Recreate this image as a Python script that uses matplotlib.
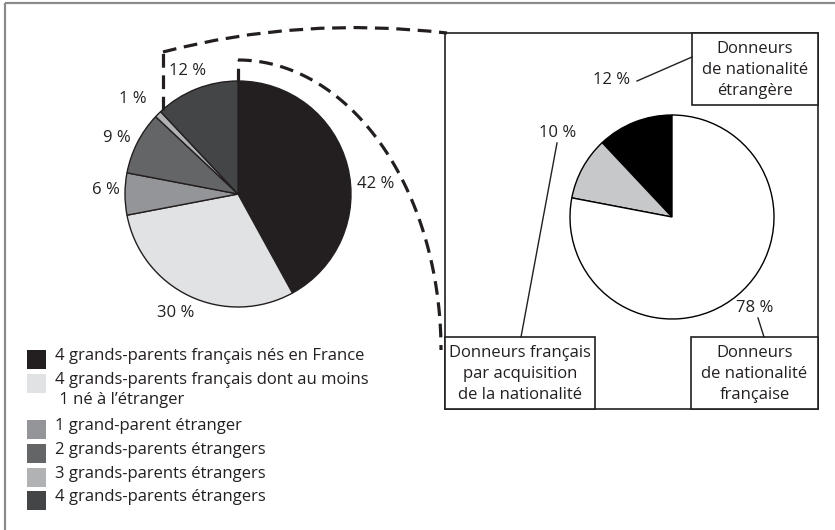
import matplotlib
matplotlib.use("Agg")
import numpy as np
from matplotlib import pyplot as plt
from matplotlib.patches import Rectangle, PathPatch
from matplotlib.path import Path

plt.rcParams['font.family'] = ['Open Sans', 'DejaVu Sans']

# left pie: origin of the donors' grandparents
left_labels = ['4 grands-parents français nés en France',
               '4 grands-parents français dont au moins\n 1 né à l\u2019étranger',
               '1 grand-parent étranger',
               '2 grands-parents étrangers',
               '3 grands-parents étrangers',
               '4 grands-parents étrangers']
left_values = [42, 30, 6, 9, 1, 12]
left_colors = ['#231f20', '#e1e2e3', '#939598', '#646567', '#b1b2b4', '#444547']
left_pct = ['42 %', '30 %', '6 %', '9 %', '1 %', '12 %']

# right pie: nationality of the donors
right_labels = ['Donneurs\nde nationalité\nétrangère',
                'Donneurs français\npar acquisition\nde la nationalité',
                'Donneurs\nde nationalité\nfrançaise']
right_values = [12, 10, 78]
right_colors = ['#000000', '#c7c8ca', '#ffffff']
right_pct = ['12 %', '10 %', '78 %']

W, H = 835, 530
fig = plt.figure(figsize=(W / 100, H / 100), dpi=100)
ax = fig.add_axes([0, 0, 1, 1])

# outer frame (only top/left visible)
ax.add_patch(Rectangle((5, 3), 900, 600, fill=False, ec='#8a8a8a', lw=1.6))

# y axis is inverted: startangle -90 is the top, counterclock=True runs clockwise on screen
ax.pie(left_values, colors=left_colors, center=(238, 194), radius=113,
       startangle=-90, counterclock=True, frame=True,
       wedgeprops=dict(edgecolor='#231f20', linewidth=1.0))
ax.pie(right_values, colors=right_colors, center=(672, 217), radius=102,
       startangle=-90, counterclock=False, frame=True,
       wedgeprops=dict(edgecolor='#000000', linewidth=1.0))
ax.set_xlim(0, W)
ax.set_ylim(H, 0)
ax.set_aspect('equal')
ax.axis('off')

fs = 12
left_pos = [(376, 184), (176, 313), (106, 190), (117, 138), (133, 99), (188, 71)]
for (x, y), t in zip(left_pos, left_pct):
    ax.text(x, y, t, ha='center', va='center', fontsize=fs, color='#231f20')

# legend
leg_y = [359, 383, 429, 453, 477, 500]
for y, lab, c in zip(leg_y, left_labels, left_colors):
    ax.add_patch(Rectangle((27, y - 9.5), 19, 19, fc=c, ec='none'))
    ax.text(55, y - 11, lab, ha='left', va='top', fontsize=fs, color='#231f20',
            linespacing=1.3)

# right panel box
ax.add_patch(Rectangle((445, 33), 373, 376, fill=False, ec='#231f20', lw=1.2))
boxes = [(692, 33, 126, 72), (445, 337, 150, 72), (691, 337, 127, 72)]
for (x, y, w, h), lab in zip(boxes, right_labels):
    ax.add_patch(Rectangle((x, y), w, h, fc='white', ec='#231f20', lw=1.2))
    ax.text(x + w / 2, y + h / 2 + 1, lab, ha='center', va='center', fontsize=fs,
            color='#231f20', linespacing=1.42)

right_pos = [(612, 80), (558, 133), (755, 308)]
for (x, y), t in zip(right_pos, right_pct):
    ax.text(x, y, t, ha='center', va='center', fontsize=fs, color='#231f20')
leaders = [((637, 81), (692, 57)), ((557, 143), (521, 337)), ((758, 318), (764, 337))]
for (x0, y0), (x1, y1) in leaders:
    ax.plot([x0, x1], [y0, y1], color='#231f20', lw=1.0)

# dashed connectors between the two pies
dash = dict(color='#231f20', lw=2.3, linestyle=(0, (4.3, 2.4)))
ax.plot([163, 163], [110, 52], **dash)
outer = Path([(163, 52), (300, 16), (447, 33)], [Path.MOVETO, Path.CURVE3, Path.CURVE3])
ax.add_patch(PathPatch(outer, fill=False, **dash))
ax.plot([238, 238], [82, 60], **dash)
ang = np.linspace(np.pi / 2, 0.0, 100)
ax.plot(238 + 203 * np.cos(ang), 350 - 290 * np.sin(ang), **dash)

fig.savefig('out.png', dpi=100)
